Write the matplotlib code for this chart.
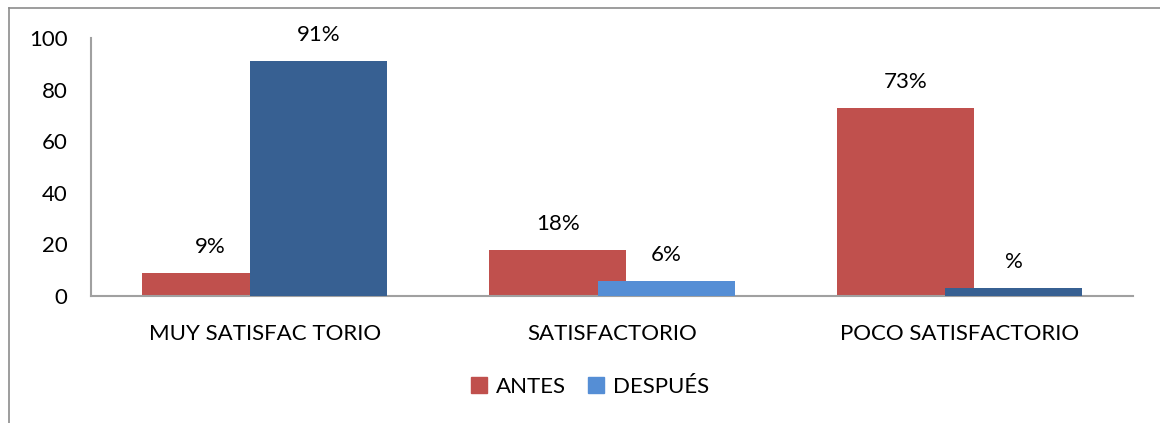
import matplotlib
matplotlib.use("Agg")
import matplotlib.pyplot as plt
from matplotlib.lines import Line2D
from matplotlib.patches import Patch
import numpy as np

categories = ["MUY SATISFAC TORIO", "SATISFACTORIO", "POCO SATISFACTORIO"]
antes = [9, 18, 73]
despues = [91, 6, 3]
antes_labels = ["9%", "18%", "73%"]
despues_labels = ["91%", "6%", "%"]
yticks = [0, 20, 40, 60, 80, 100]

RED = "#C0504D"
DARK_BLUE = "#376092"
LIGHT_BLUE = "#558ED5"
despues_colors = [DARK_BLUE, LIGHT_BLUE, DARK_BLUE]

plt.rcParams["font.family"] = ["Lato", "DejaVu Sans"]
FS = 16

fig = plt.figure(figsize=(11.6, 4.23), dpi=100)
ax = fig.add_axes([91/1160, 1 - 296/423, (1133-91)/1160, (296-38)/423])

x = np.arange(len(categories))
w = 0.395
off = 0.156
ax.bar(x - off, antes, width=w, color=RED, zorder=2)
ax.bar(x + off, despues, width=w, color=despues_colors, zorder=3)

for xi, v, lab in zip(x, antes, antes_labels):
    ax.annotate(lab, (xi - off, v), xytext=(0, 26), textcoords="offset pixels",
                ha="center", va="center", fontsize=FS, color="black")
for xi, v, lab in zip(x, despues, despues_labels):
    ax.annotate(lab, (xi + off, v), xytext=(0, 26), textcoords="offset pixels",
                ha="center", va="center", fontsize=FS, color="black")

ax.set_xlim(-0.5, 2.5)
ax.set_ylim(0, 100)
ax.set_yticks(yticks)
ax.set_xticks(x)
ax.set_xticklabels(categories)
ax.tick_params(axis="both", length=0, labelsize=FS)
ax.tick_params(axis="y", pad=17)
ax.tick_params(axis="x", pad=20)
for s in ["top", "right"]:
    ax.spines[s].set_visible(False)
for s in ["left", "bottom"]:
    ax.spines[s].set_color("#A0A0A0")
    ax.spines[s].set_linewidth(1.5)

handles = [Patch(color=RED, label="ANTES"), Patch(color=LIGHT_BLUE, label="DESPUÉS")]
fig.legend(handles=handles, loc="center", bbox_to_anchor=(590/1160, 1 - 387/423),
           ncol=2, frameon=False, fontsize=FS, handlelength=0.7, handleheight=0.7,
           handletextpad=0.4, columnspacing=1.03)

# chart area border (top and left)
fig.add_artist(Line2D([9/1160, 9/1160], [0, 1 - 8/423], transform=fig.transFigure, color="#8C8C8C", lw=1.2))
fig.add_artist(Line2D([9/1160, 1], [1 - 8/423, 1 - 8/423], transform=fig.transFigure, color="#8C8C8C", lw=1.2))

fig.savefig("out.png", dpi=100)
